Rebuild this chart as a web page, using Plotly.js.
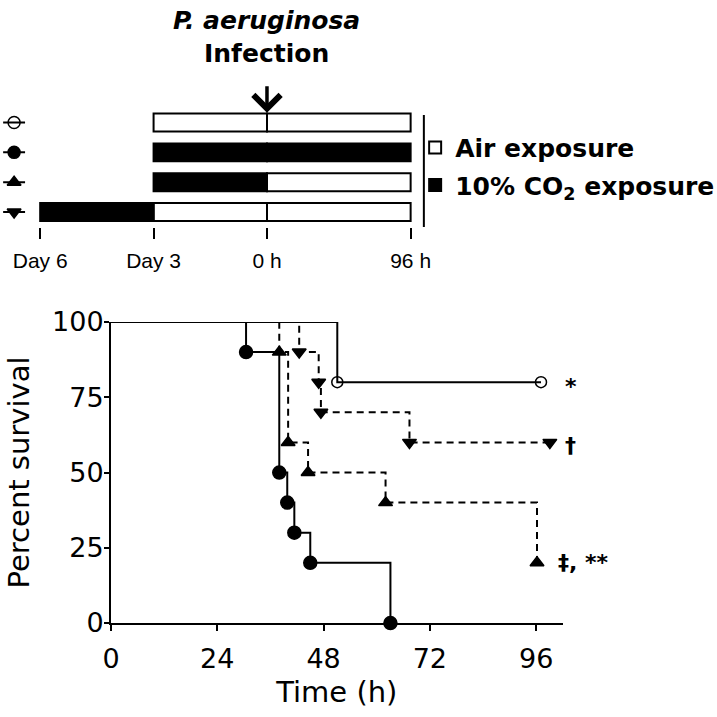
<!DOCTYPE html>
<html>
<head>
<meta charset="utf-8">
<script src="https://cdn.plot.ly/plotly-3.0.1.min.js"></script>
<style>
  html, body { margin: 0; padding: 0; background: #fff; }
  #grafica { width: 717px; height: 717px; }
</style>
</head>
<body>
<div id="grafica"></div>
<script>
// survival curves (time in h, percent survival after each step)
const airT = [0, 51.1, 97.1];
const airS = [100, 80, 80];
const co2AllT = [0, 30.5, 38, 39.8, 41.4, 45, 63.1];
const co2AllS = [100, 90, 50, 40, 30, 20, 0];
const co2PreT = [0, 38, 40, 44.5, 62, 96.2];
const co2PreS = [100, 90, 60, 50, 40, 20];
const co2EarlyT = [0, 42.5, 46.9, 47.4, 67.4, 99.1];
const co2EarlyS = [100, 90, 80, 70, 60, 60];

const xTicks = [0, 24, 48, 72, 96];
const yTicks = [0, 25, 50, 75, 100];
const notes = ['*', '†', '‡, **'];
const notesY = [78.5, 59, 20];

// exposure schematic (x in days, 96 h drawn at 3.8)
const schemTickVals = [-6, -3, 0, 3.8];
const schemTickText = ['Day 6', 'Day 3', '0 h', '96 h'];
const segRow = [4, 4, 3, 3, 2, 2, 1, 1, 1];
const segStart = [-3, 0, -3, 0, -3, 0, -6, -3, 0];
const segEnd = [0, 3.8, 0, 3.8, 0, 3.8, -3, 0, 3.8];
const segKind = ['air', 'air', 'co2', 'co2', 'co2', 'air', 'co2', 'air', 'air'];

const font = 'DejaVu Sans';
const dash = '7px,5px';

function segTrace(kind, name, color, group) {
    const idx = segKind.map((k, i) => k === kind ? i : -1).filter(i => i >= 0);
    return {
        type: 'bar', orientation: 'h',
        xaxis: 'x2', yaxis: 'y2',
        y: idx.map(i => segRow[i]),
        base: idx.map(i => segStart[i]),
        x: idx.map(i => segEnd[i] - segStart[i]),
        width: 0.6,
        marker: { color: color, line: { color: 'black', width: 2 } },
        name: name, legendgroup: group,
        hoverinfo: 'skip'
    };
}

function curve(t, s, symbol, size, dashed) {
    return {
        x: t, y: s, type: 'scatter', mode: 'lines+markers',
        line: { shape: 'hv', color: 'black', width: 2, dash: dashed ? dash : 'solid' },
        marker: {
            symbol: symbol, color: 'black', opacity: 1,
            size: t.map((_, i) => i === 0 ? 0 : size),
            line: { color: 'black', width: 1.5 }
        },
        cliponaxis: false, showlegend: false, hoverinfo: 'skip'
    };
}

function keyTrace(row, symbol) {
    return {
        x: [-6.98, -6.69, -6.40], y: [row, row, row],
        xaxis: 'x2', yaxis: 'y2', type: 'scatter', mode: 'lines+markers',
        line: { color: 'black', width: 2 },
        marker: { symbol: symbol, color: 'black', opacity: 1, size: [0, 12, 0], line: { color: 'black', width: 1.5 } },
        cliponaxis: false, showlegend: false, hoverinfo: 'skip'
    };
}

const data = [
    segTrace('air', '<b>Air exposure</b>', 'white', 'a'),
    segTrace('co2', '<b>10% CO<sub>2</sub> exposure</b>', 'black', 'b'),
    keyTrace(4, 'circle-open'),
    keyTrace(3, 'circle'),
    keyTrace(2, 'triangle-up'),
    keyTrace(1, 'triangle-down'),
    curve(airT, airS, 'circle-open', 11, false),
    curve(co2AllT, co2AllS, 'circle', 13, false),
    curve(co2PreT, co2PreS, 'triangle-up', 12, true),
    curve(co2EarlyT, co2EarlyS, 'triangle-down', 12, true)
];

// significance marks just right of the curve ends
const notesXDomain = [1.0, 1.0, 0.985];
const annotations = notes.map((n, i) => ({
    x: notesXDomain[i], y: notesY[i], xref: 'x domain', yref: 'y', text: '<b>' + n + '</b>',
    showarrow: false, xanchor: 'left', yanchor: 'middle',
    font: { family: font, size: 22, color: 'black' }
}));
annotations.push({
    x: 0, y: 0.948, xref: 'x2', yref: 'paper',
    text: '<b><i>P. aeruginosa</i></b><br><b>Infection</b>',
    showarrow: false, xanchor: 'center', yanchor: 'middle',
    font: { family: font, size: 25, color: 'black' }
});
annotations.push({
    x: 0, y: 4.33, xref: 'x2', yref: 'y2', text: '',
    showarrow: true, ax: 0, ay: -28, arrowhead: 4, arrowsize: 1.5, arrowwidth: 3.5, arrowcolor: 'black'
});

const layout = {
    width: 717, height: 717,
    // no autoexpand: keep the legend from squeezing the axes
    margin: { l: 0, r: 0, t: 0, b: 0, autoexpand: false },
    paper_bgcolor: 'white', plot_bgcolor: 'rgba(0,0,0,0)',
    barmode: 'overlay',
    showlegend: true,
    legend: {
        x: 0.579, y: 0.826, xanchor: 'left', yanchor: 'top',
        traceorder: 'grouped', tracegroupgap: 2,
        bgcolor: 'rgba(0,0,0,0)',
        font: { family: font, size: 25, color: 'black' }
    },
    xaxis: {
        domain: [0.1548, 0.7848], range: [0, 102], anchor: 'y',
        tickvals: xTicks, ticks: 'outside', ticklen: 6, tickwidth: 2, tickcolor: 'black',
        showline: true, linewidth: 2, linecolor: 'black',
        showgrid: false, zeroline: false, ticklabelstandoff: 5,
        tickfont: { family: font, size: 27, color: 'black' },
        title: { text: 'Time (h)', font: { family: font, size: 29, color: 'black' }, standoff: 8 }
    },
    yaxis: {
        domain: [0.1311, 0.5509], range: [0, 100], anchor: 'x',
        tickvals: yTicks, ticks: 'outside', ticklen: 5, tickwidth: 2, tickcolor: 'black',
        showline: true, linewidth: 2, linecolor: 'black',
        showgrid: false, zeroline: false, ticklabelstandoff: -5,
        tickfont: { family: font, size: 27, color: 'black' },
        title: { text: 'Percent survival', font: { family: font, size: 29, color: 'black' }, standoff: 14 }
    },
    xaxis2: {
        domain: [0, 1], range: [-7.063, 11.905], anchor: 'y2',
        tickvals: schemTickVals, ticktext: schemTickText,
        ticks: 'outside', ticklen: 11, tickwidth: 2, tickcolor: 'black',
        showline: false, showgrid: false, zeroline: false, ticklabelstandoff: 4,
        tickfont: { family: 'Liberation Sans', size: 21, color: 'black' }
    },
    yaxis2: {
        domain: [0.6835, 0.8499], range: [0.5, 4.5], anchor: 'x2', visible: false
    },
    shapes: [{
        type: 'line', xref: 'x2', yref: 'y2', x0: 4.15, x1: 4.15, y0: 0.5, y1: 4.25,
        line: { color: 'black', width: 2 }
    }],
    annotations: annotations
};

Plotly.newPlot('grafica', data, layout, { displayModeBar: false, staticPlot: true });
</script>
</body>
</html>
